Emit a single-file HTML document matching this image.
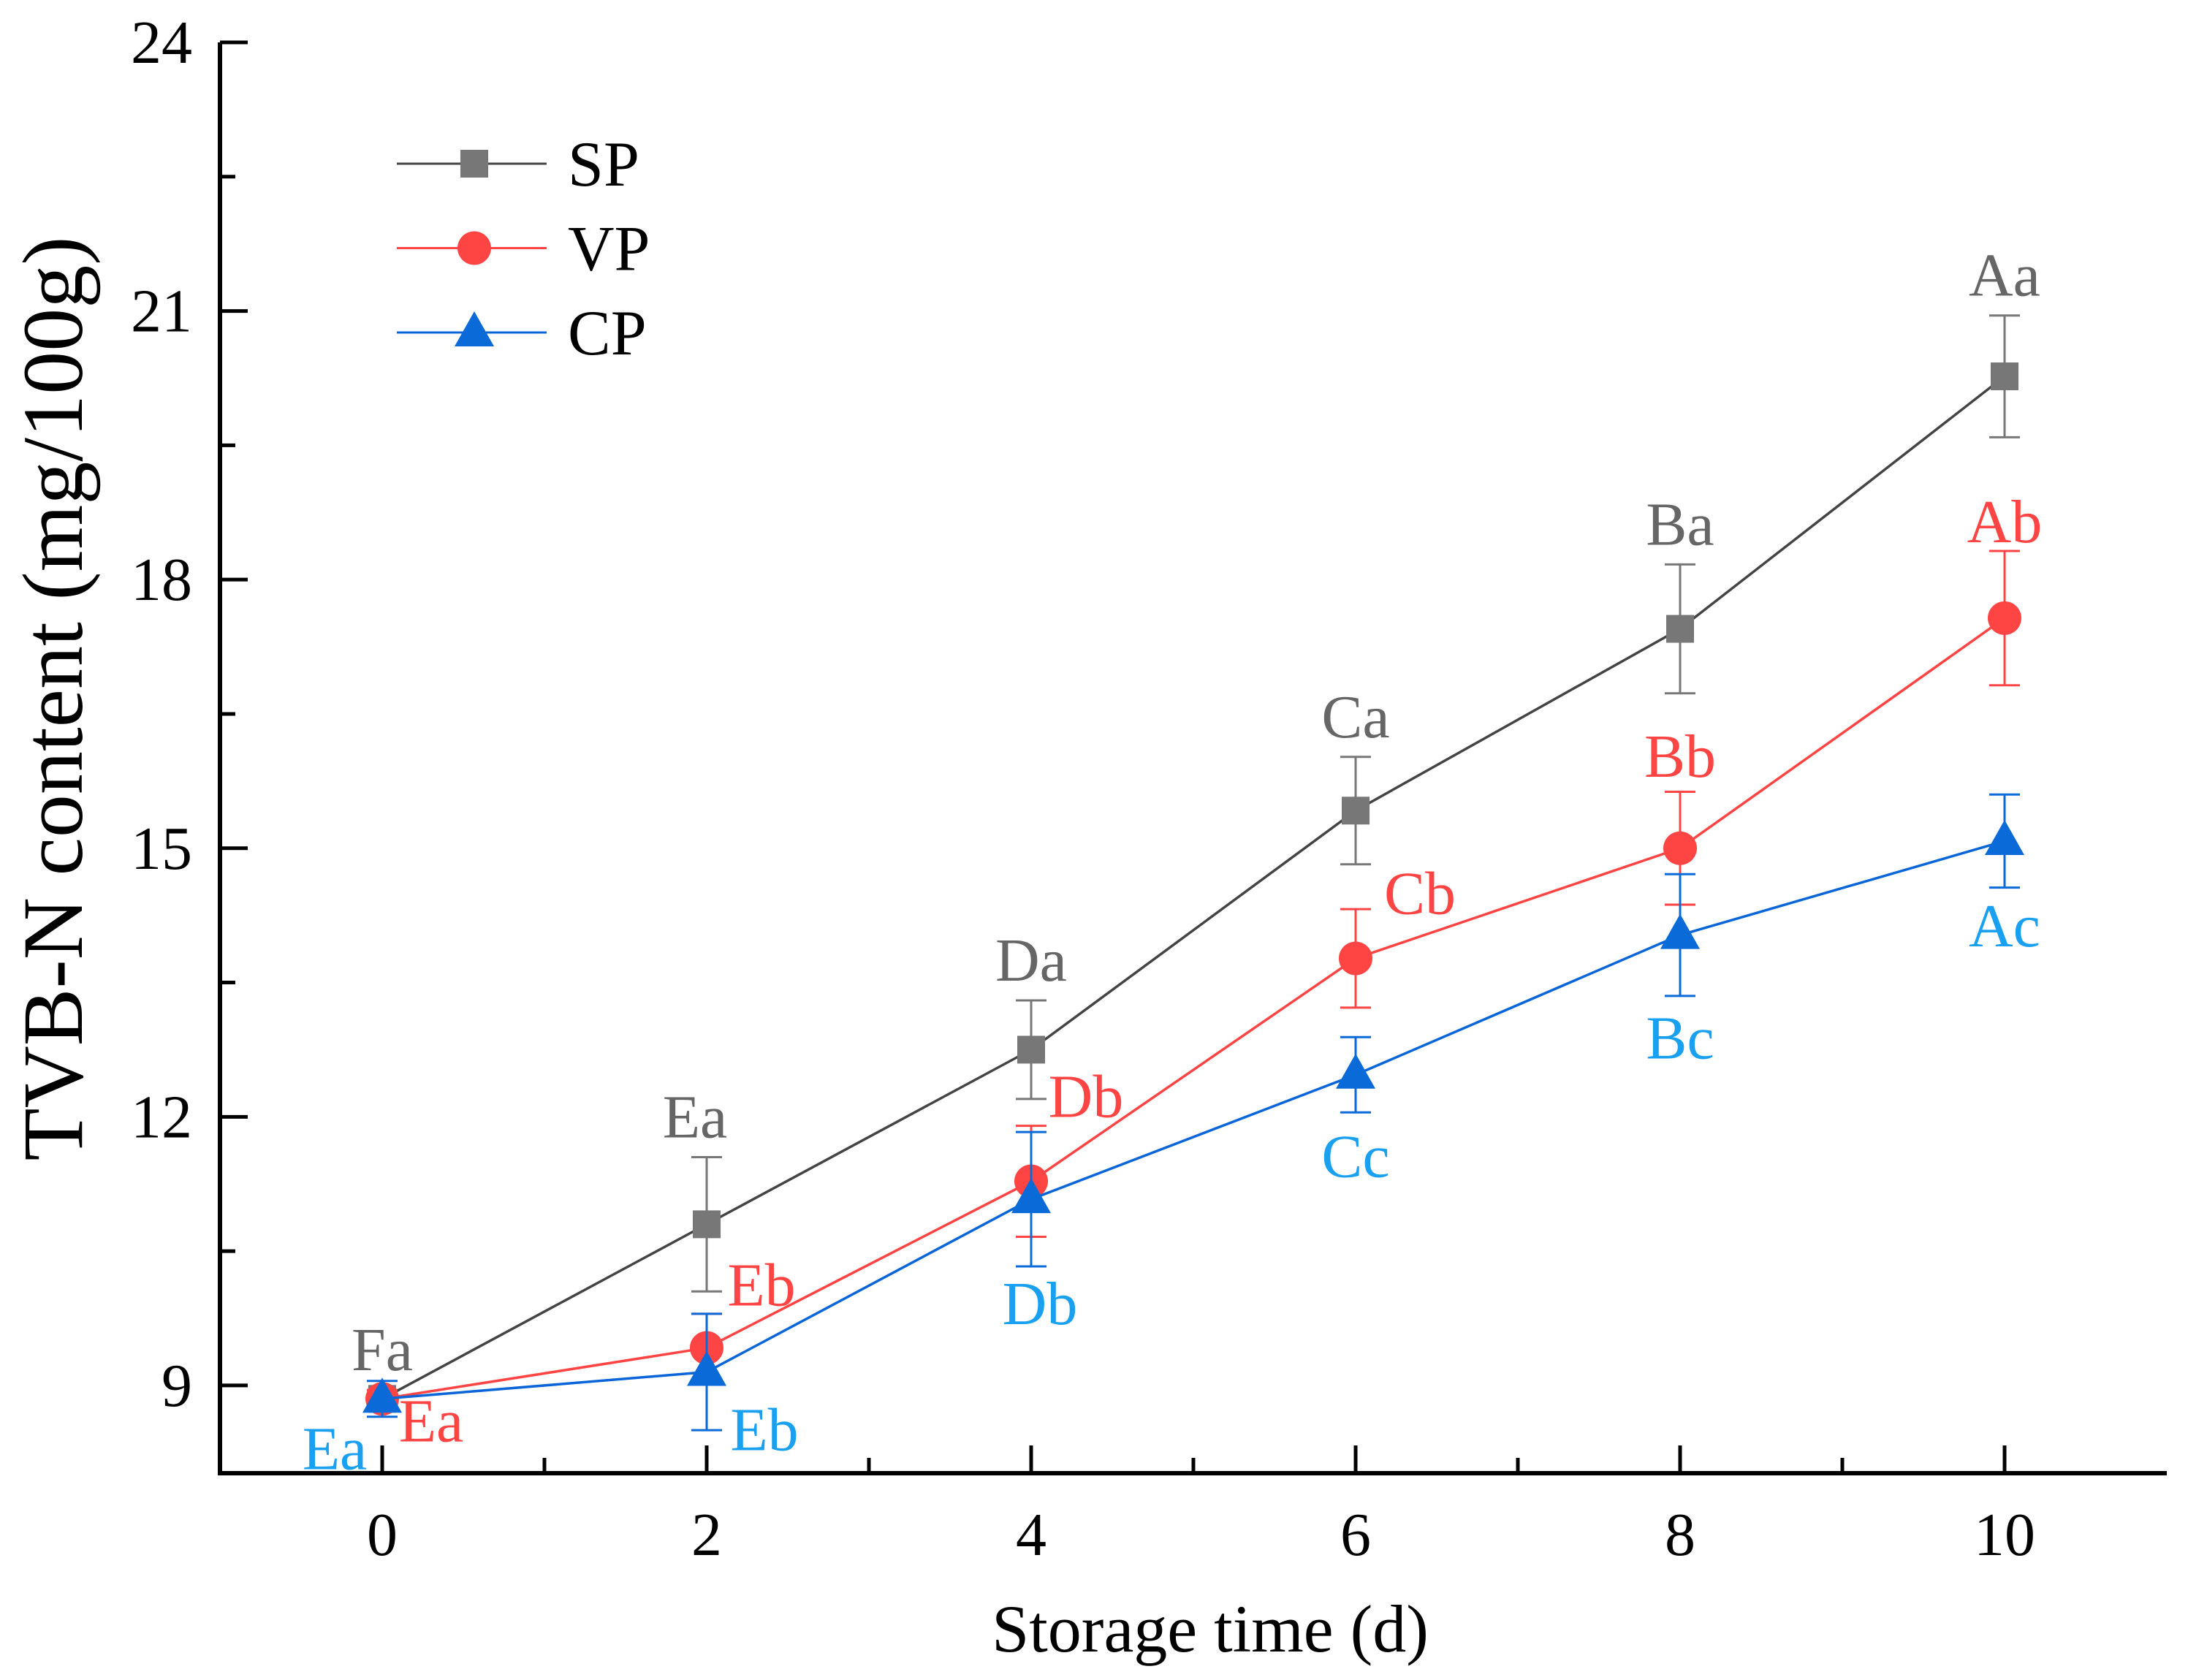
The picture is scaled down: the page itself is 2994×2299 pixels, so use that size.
<!DOCTYPE html>
<html><head><meta charset="utf-8"><style>
html,body{margin:0;padding:0;background:#fff;}
svg{display:block;font-family:"Liberation Serif",serif;}
</style></head><body>
<svg id="chart" width="2994" height="2299" viewBox="0 0 2994 2299" xmlns="http://www.w3.org/2000/svg"></svg>
<script>
const days = [0, 2, 4, 6, 8, 10];
const spValues = [8.85, 10.8, 12.75, 15.42, 17.45, 20.27];
const spErrors = [0.1, 0.75, 0.55, 0.6, 0.72, 0.68];
const vpValues = [8.85, 9.42, 11.28, 13.77, 15.0, 17.57];
const vpErrors = [0.1, 0.38, 0.62, 0.55, 0.63, 0.75];
const cpValues = [8.85, 9.15, 11.08, 12.47, 14.03, 15.08];
const cpErrors = [0.2, 0.65, 0.75, 0.42, 0.68, 0.52];
const spLetters = ["Fa", "Ea", "Da", "Ca", "Ba", "Aa"];
const vpLetters = ["Ea", "Eb", "Db", "Cb", "Bb", "Ab"];
const cpLetters = ["Ea", "Eb", "Db", "Cc", "Bc", "Ac"];
const xTicks = [0, 2, 4, 6, 8, 10];
const yTicks = [9, 12, 15, 18, 21, 24];

const L = 301, R = 2965, T = 58, B = 2016;
const xMin = -1, xMax = 11, yMin = 8.02, yMax = 24;
const sx = v => L + (v - xMin) / (xMax - xMin) * (R - L);
const sy = v => B - (v - yMin) / (yMax - yMin) * (B - T);
const svg = document.getElementById('chart');
const NS = 'http://www.w3.org/2000/svg';
function mk(tag, attrs, parent) {
  const e = document.createElementNS(NS, tag);
  for (const k in attrs) e.setAttribute(k, attrs[k]);
  (parent || svg).appendChild(e);
  return e;
}
function txt(s, x, y, size, fill, anchor, name, parent) {
  const t = mk('text', {x: x, y: y, 'font-size': size, fill: fill, 'text-anchor': anchor || 'middle'}, parent);
  t.textContent = s;
  
  
  return t;
}

const axes = mk('g', {});


mk('path', {d: `M${L} ${T} V${B} H${R}`, fill: 'none', stroke: '#000', 'stroke-width': 6}, axes);
for (let v = 0; v <= 10; v++) {
  const major = v % 2 === 0;
  mk('line', {x1: sx(v), x2: sx(v), y1: B, y2: B - (major ? 38 : 21), stroke: '#000', 'stroke-width': 5}, axes);
}
for (let v = 9; v <= 24; v += 1.5) {
  const major = Math.abs(v % 3) < 0.01;
  mk('line', {x1: L, x2: L + (major ? 38 : 21), y1: sy(v), y2: sy(v), stroke: '#000', 'stroke-width': 5}, axes);
}
xTicks.forEach(v => txt(String(v), sx(v), 2128, 84, '#000', 'middle', 'x-tick-label'));
yTicks.forEach(v => txt(String(v), 263, sy(v) + 28, 84, '#000', 'end', 'y-tick-label'));
txt('Storage time (d)', 1656, 2260, 92, '#000', 'middle', 'x-axis-title');
const yt = txt('TVB-N content (mg/100g)', 0, 0, 118, '#000', 'middle', 'y-axis-title');
yt.setAttribute('transform', 'translate(112 956) rotate(-90)');

const series = [
  {name: 'sp', vals: spValues, errs: spErrors, letters: spLetters, line: '#444', mark: '#777', err: '#777', lab: '#666', shape: 'square',
   off: [[0,-27],[-16,-27],[0,-27],[0,-27],[0,-27],[0,-27]], offFromErr: true},
  {name: 'vp', vals: vpValues, errs: vpErrors, letters: vpLetters, line: '#f44', mark: '#f44', err: '#f44', lab: '#f44', shape: 'circle',
   off: [[67,58],[75,-58],[75,-88],[88,-61],[0,-98],[0,-104]]},
  {name: 'cp', vals: cpValues, errs: cpErrors, letters: cpLetters, line: '#0a66d8', mark: '#0a6ad8', err: '#0a6ad8', lab: '#1aa0f0', shape: 'triangle',
   off: [[-65,96],[79,107],[12,171],[0,140],[0,169],[0,144]]}
];
function marker(shape, x, y, color, parent) {
  if (shape === 'square') return mk('rect', {x: x - 19, y: y - 19, width: 38, height: 38, fill: color}, parent);
  if (shape === 'circle') return mk('circle', {cx: x, cy: y, r: 23, fill: color}, parent);
  return mk('path', {d: `M${x} ${y - 29} L${x + 27} ${y + 19} L${x - 27} ${y + 19} Z`, fill: color}, parent);
}
series.forEach(s => {
  const g = mk('g', {});
  
  
  mk('polyline', {points: days.map((d, i) => sx(d) + ',' + sy(s.vals[i])).join(' '), fill: 'none', stroke: s.line, 'stroke-width': 3.5}, g);
  days.forEach((d, i) => {
    const x = sx(d), y1 = sy(s.vals[i] + s.errs[i]), y2 = sy(s.vals[i] - s.errs[i]);
    const eb = mk('path', {d: `M${x} ${y1} V${y2} M${x - 21} ${y1} H${x + 21} M${x - 21} ${y2} H${x + 21}`, stroke: s.err, 'stroke-width': 3, fill: 'none'}, g);
    
    
  });
  days.forEach((d, i) => {
    const m = marker(s.shape, sx(d), sy(s.vals[i]), s.mark, g);
    
    
  });
  s.g = g;
});
series.forEach(s => {
  days.forEach((d, i) => {
    const base = s.offFromErr ? sy(s.vals[i] + s.errs[i]) : sy(s.vals[i]);
    txt(s.letters[i], sx(d) + s.off[i][0], base + s.off[i][1], 84, s.lab, 'middle', s.name + '-significance-label', s.g);
  });
});

const lg = mk('g', {});


const legendNames = ['SP', 'VP', 'CP'];
series.forEach((s, i) => {
  const y = 224 + i * 115.5;
  const e = mk('g', {}, lg);
  
  
  mk('line', {x1: 543, x2: 748, y1: y, y2: y, stroke: s.line, 'stroke-width': 3}, e);
  marker(s.shape, 649, y, s.mark, e);
  txt(legendNames[i], 777, y + 30, 88, '#000', 'start', 'legend-label', e);
});
</script>
</body></html>
